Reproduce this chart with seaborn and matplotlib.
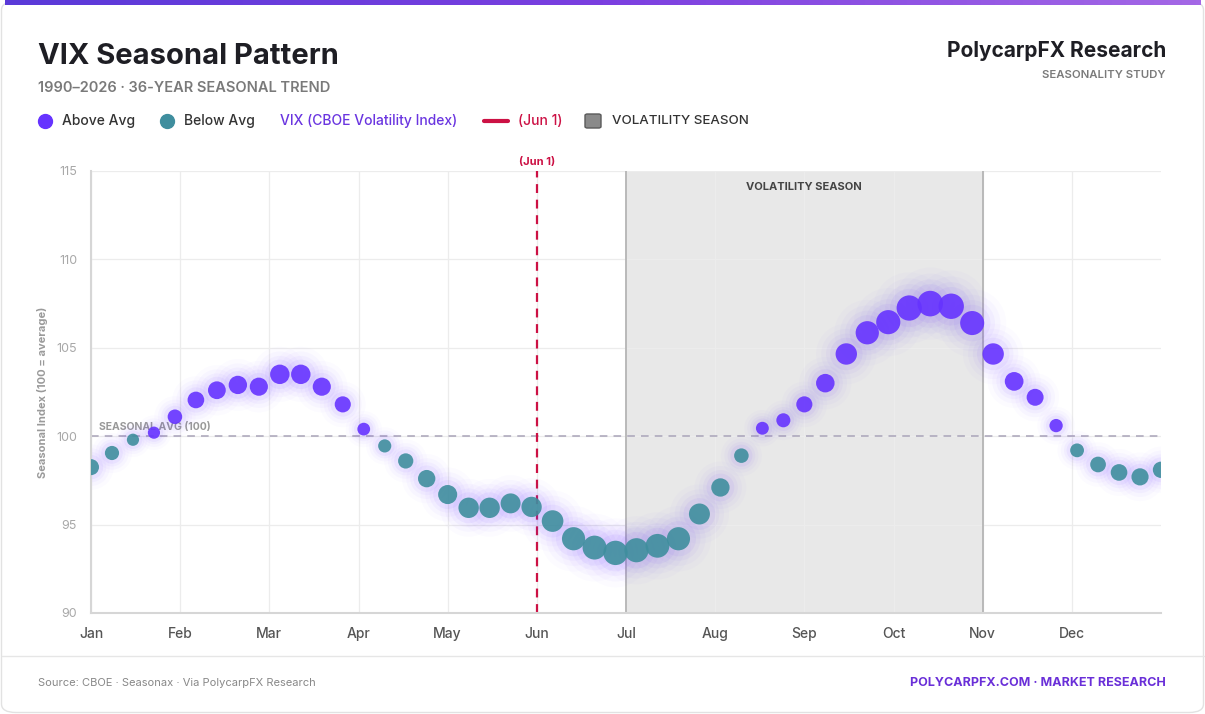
import numpy as np
import pandas as pd
import matplotlib
matplotlib.use("Agg")
import matplotlib.pyplot as plt
import seaborn as sns
from matplotlib.lines import Line2D
from matplotlib.patches import FancyBboxPatch
from matplotlib.colors import LinearSegmentedColormap

# ---------------- data ----------------
months = ["Jan", "Feb", "Mar", "Apr", "May", "Jun", "Jul", "Aug", "Sep", "Oct", "Nov", "Dec"]
weeks = list(range(52))
seasonal_index = [
    98.25, 99.05, 99.8, 100.2, 101.1, 102.05, 102.6, 102.9, 102.8, 103.5,
    103.5, 102.8, 101.8, 100.4, 99.45, 98.6, 97.6, 96.7, 95.95, 95.95,
    96.2, 96.0, 95.2, 94.2, 93.7, 93.4, 93.55, 93.8, 94.2, 95.6,
    97.1, 98.9, 100.45, 100.9, 101.8, 103.0, 104.65, 105.85, 106.45, 107.25,
    107.5, 107.35, 106.4, 104.65, 103.1, 102.2, 100.6, 99.2, 98.4, 97.95,
    97.7, 98.1,
]
baseline = 100
marker_month = 5          # Jun 1
season_months = (6, 10)   # Jul -> Nov
y_ticks = [90, 95, 100, 105, 110, 115]

PURPLE = "#6633ff"
TEAL = "#3f8e9e"
CRIMSON = "#cc1144"

df = pd.DataFrame({"week": weeks, "value": seasonal_index})
df["group"] = np.where(df["value"] >= baseline, "Above Avg", "Below Avg")
df["dev"] = (df["value"] - baseline).abs()

sns.set_theme(style="white")
plt.rcParams["font.family"] = ["Inter", "DejaVu Sans"]

W, H = 1205, 714
fig = plt.figure(figsize=(W / 100, H / 100), dpi=100)
fig.patch.set_facecolor("white")

# card + top gradient bar
card = FancyBboxPatch((1.5 / W, 1.5 / H), 1 - 3 / W, 1 - 3 / H,
                      boxstyle="round,pad=0,rounding_size=0.012",
                      transform=fig.transFigure, facecolor="white",
                      edgecolor="#e2e2e2", lw=1.0, zorder=-10)
fig.patches.append(card)
gax = fig.add_axes([0.004, 1 - 5 / H, 0.992, 5 / H])
grad = np.linspace(0, 1, 256).reshape(1, -1)
cm = LinearSegmentedColormap.from_list("g", ["#5a3ad8", "#7b3fe0", "#a468e6"])
gax.imshow(grad, aspect="auto", cmap=cm)
gax.axis("off")

# footer separator
fig.add_artist(Line2D([1.5 / W, 1 - 1.5 / W], [1 - 656 / H] * 2,
                      transform=fig.transFigure, color="#e6e6e6", lw=1))

# ---------------- main axes ----------------
ax = fig.add_axes([91 / W, 1 - 613 / H, (1161 - 91) / W, (613 - 171) / H])
n_last = weeks[-1]
month_pos = np.arange(12) * n_last / 12

# season span
x0, x1 = season_months[0] * n_last / 12, season_months[1] * n_last / 12
ax.axvspan(x0, x1, facecolor="#e8e8e8", edgecolor="none", zorder=0.1)
for xv in (x0, x1):
    ax.axvline(xv, color="#b5b5b5", lw=1.3, zorder=0.6)
ax.text((x0 + x1) / 2, 114.1, "VOLATILITY SEASON", ha="center", va="center",
        fontsize=8, fontweight="bold", color="#444444", zorder=5)

# baseline
ax.axhline(baseline, color="#a9a4b8", lw=1.1, ls=(0, (5, 4)), zorder=1)
ax.text(0.4, baseline + 0.25, "SEASONAL AVG (100)", fontsize=7.5,
        color="#999999", fontweight="bold", va="bottom", ha="left", zorder=1.5)

# Jun 1 marker
xm = marker_month * n_last / 12
ax.axvline(xm, color=CRIMSON, lw=1.6, ls=(0, (4, 3)), zorder=2)
ax.text(xm, 115.5, "(Jun 1)", ha="center", va="center", fontsize=8,
        fontweight="bold", color=CRIMSON, clip_on=False)

# glow
smin, smax = 70, 340
dmax = df["dev"].max()
base_s = smin + (smax - smin) * df["dev"] / dmax
for mult, a in [(8.0, 0.02), (5.5, 0.03), (3.6, 0.045), (2.3, 0.065)]:
    ax.scatter(df["week"], df["value"], s=base_s * mult, color="#7a4dff",
               alpha=a, lw=0, zorder=2.5)

sns.scatterplot(data=df, x="week", y="value", hue="group", size="dev",
                sizes=(smin, smax), size_norm=(0, dmax),
                palette={"Above Avg": PURPLE, "Below Avg": TEAL},
                alpha=0.9, linewidth=0, legend=False, ax=ax, zorder=3)

ax.set_xlim(0, n_last)
ax.set_ylim(y_ticks[0], y_ticks[-1])
ax.set_axisbelow(True)
ax.set_xticks(month_pos)
ax.set_xticklabels(months)
ax.set_yticks(y_ticks)
ax.grid(True, color="#ececec", lw=0.9)
for s in ["top", "right"]:
    ax.spines[s].set_visible(False)
for s in ["left", "bottom"]:
    ax.spines[s].set_color("#d6d6d6")
    ax.spines[s].set_linewidth(1.5)
ax.tick_params(axis="x", colors="#555555", labelsize=10, length=0, pad=10)
ax.tick_params(axis="y", colors="#a8a8a8", labelsize=9, length=0, pad=10)
for lab in ax.get_xticklabels():
    lab.set_fontweight("medium")
ax.set_ylabel("Seasonal Index (100 = average)", fontsize=8, color="#9a9a9a",
              fontweight="bold", labelpad=6)
ax.set_xlabel("")

# ---------------- header ----------------
fig.text(38 / W, 1 - 57 / H, "VIX Seasonal Pattern", fontsize=21,
         fontweight="bold", color="#1e1e24", va="center", ha="left")
fig.text(38 / W, 1 - 88 / H, "1990–2026 · 36-YEAR SEASONAL TREND",
         fontsize=10.5, fontweight="semibold", color="#7a7a7a", va="center", ha="left")
fig.text(1166 / W, 1 - 51 / H, "PolycarpFX Research", fontsize=15,
         fontweight="bold", color="#1e1e24", va="center", ha="right")
fig.text(1166 / W, 1 - 75 / H, "SEASONALITY STUDY", fontsize=8.2,
         fontweight="semibold", color="#7a7a7a", va="center", ha="right")

# legend row
ly = 1 - 121 / H
fig.add_artist(Line2D([45 / W], [ly], marker="o", ms=10, color=PURPLE, lw=0,
                      transform=fig.transFigure))
fig.text(62 / W, ly, "Above Avg", fontsize=10, color="#333333", va="center",
         fontweight="medium")
fig.add_artist(Line2D([167 / W], [ly], marker="o", ms=10, color=TEAL, lw=0,
                      transform=fig.transFigure))
fig.text(184 / W, ly, "Below Avg", fontsize=10, color="#333333", va="center",
         fontweight="medium")
fig.text(280 / W, ly, "VIX (CBOE Volatility Index)", fontsize=10, color="#6a35e0",
         va="center", fontweight="medium")
fig.add_artist(Line2D([484 / W, 508 / W], [ly, ly], color=CRIMSON, lw=3,
                      solid_capstyle="round", transform=fig.transFigure))
fig.text(518 / W, ly, "(Jun 1)", fontsize=10, color=CRIMSON, va="center",
         fontweight="medium")
fig.patches.append(FancyBboxPatch((585 / W, ly - 7 / H), 16 / W, 14 / H,
                                  boxstyle="round,pad=0,rounding_size=0.002",
                                  transform=fig.transFigure, facecolor="#8a8a8a",
                                  edgecolor="#5a5a5a", lw=1))
fig.text(612 / W, ly, "VOLATILITY SEASON", fontsize=9.6, color="#333333",
         va="center", fontweight="medium")

# footer
fig.text(38 / W, 1 - 683 / H, "Source: CBOE · Seasonax · Via PolycarpFX Research",
         fontsize=8, color="#888888", va="center", ha="left")
fig.text(1166 / W, 1 - 683 / H, "POLYCARPFX.COM · MARKET RESEARCH", fontsize=9,
         fontweight="bold", color="#6a2fd8", va="center", ha="right")

fig.savefig("out.png", dpi=100)
